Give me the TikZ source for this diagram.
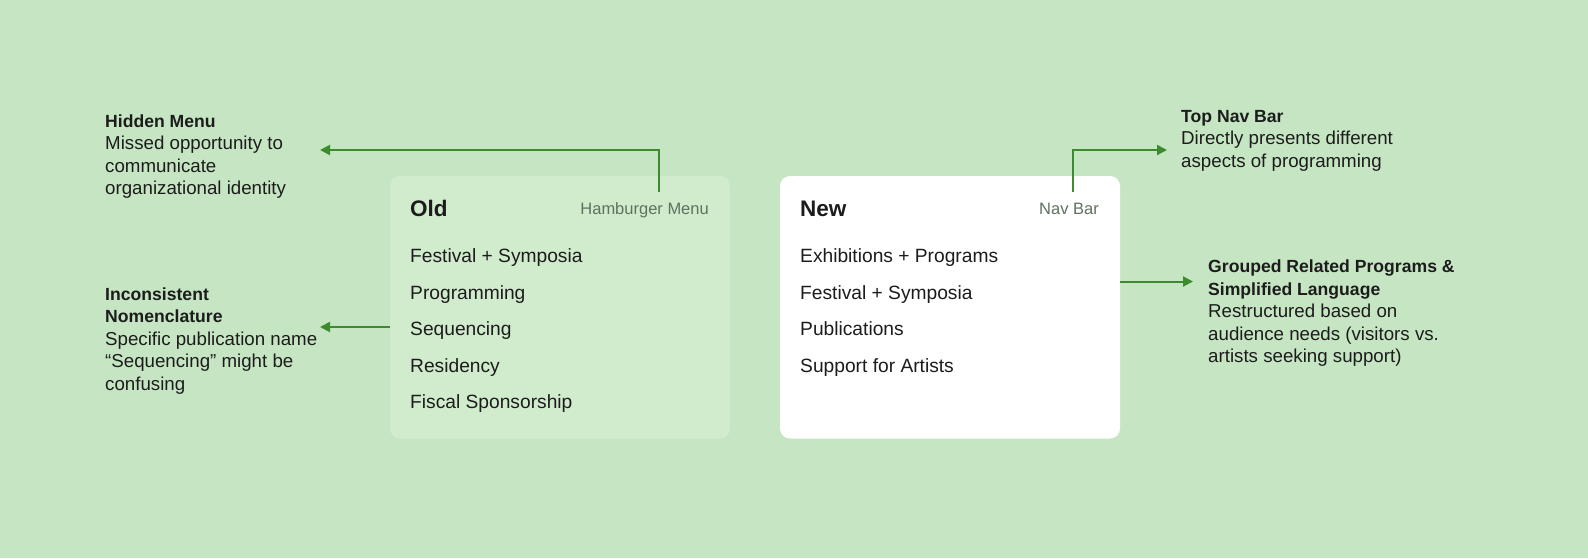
\documentclass[tikz,border=0pt]{standalone}
\usepackage{fontspec}
\setmainfont{Liberation Sans}
\usetikzlibrary{arrows.meta}

\definecolor{bggreen}{HTML}{C6E6C3}
\definecolor{oldfill}{HTML}{D1ECCD}
\definecolor{arrowgreen}{HTML}{3E8A2E}
\definecolor{inkdark}{HTML}{1C1C1C}
\definecolor{hintgray}{HTML}{5E7260}

\begin{document}
\begin{tikzpicture}[x=1pt,y=-1pt,
    menubox/.style={rectangle,rounded corners=10pt,minimum width=340pt,minimum height=262.5pt,inner sep=0},
    note/.style={align=left,anchor=base west,inner sep=0,text=inkdark,font=\notefontsize},
    item/.style={anchor=base west,inner sep=0,text=inkdark,font=\itemfontsize},
    arr/.style={draw=arrowgreen,line width=2pt,-{Triangle[length=10pt,width=10pt]}}]
    \pgfmathsetmacro{\itemgap}{36.5}
    \pgfmathsetmacro{\firstitem}{262.7}
    \providecommand{\headfontsize}{\fontsize{22.5}{28}\selectfont\bfseries}
    \providecommand{\hintfontsize}{\fontsize{16.5}{20}\selectfont}
    \providecommand{\itemfontsize}{\fontsize{19.2}{22}\selectfont}
    \providecommand{\notefontsize}{\fontsize{18.7}{22.5}\selectfont}
    \providecommand{\notetitle}[1]{{\fontsize{17.6}{22.5}\selectfont\bfseries #1}}
    \fill[bggreen] (0,0) rectangle (1588,558);
    \useasboundingbox (0,0) rectangle (1588,558);
    % the two menus
    \node[menubox,fill=oldfill] (old) at (560,307.25) {};
    \node[menubox,fill=white] (new) at (950,307.25) {};
    \node[item,font=\headfontsize] (oldhead) at (410,216.7) {Old};
    \node[item,anchor=base east,text=hintgray,font=\hintfontsize] (hamb) at (709,214) {Hamburger Menu};
    \node[item] (o1) at (410,\firstitem) {Festival + Symposia};
    \node[item] (o2) at (410,\firstitem+\itemgap) {Programming};
    \node[item] (o3) at (410,\firstitem+2*\itemgap) {Sequencing};
    \node[item] (o4) at (410,\firstitem+3*\itemgap) {Residency};
    \node[item] (o5) at (410,\firstitem+4*\itemgap) {Fiscal Sponsorship};
    \node[item,font=\headfontsize] (newhead) at (800,216.7) {New};
    \node[item,anchor=base east,text=hintgray,font=\hintfontsize] (navbar) at (1099,214) {Nav Bar};
    \node[item] (n1) at (800,\firstitem) {Exhibitions + Programs};
    \node[item] (n2) at (800,\firstitem+\itemgap) {Festival + Symposia};
    \node[item] (n3) at (800,\firstitem+2*\itemgap) {Publications};
    \node[item] (n4) at (800,\firstitem+3*\itemgap) {Support for Artists};
    % side notes, placed by the baseline of their last line
    \node[note] (hidden) at (105,194.5) {\notetitle{Hidden Menu}\\Missed opportunity to\\communicate\\organizational identity};
    \node[note] (naming) at (105,390.2) {\notetitle{Inconsistent}\\\notetitle{Nomenclature}\\Specific publication name\\“Sequencing” might be\\confusing};
    \node[note] (topnav) at (1181,167) {\notetitle{Top Nav Bar}\\Directly presents different\\aspects of programming};
    \node[note] (grouped) at (1208,362.9) {\notetitle{Grouped Related Programs \&}\\\notetitle{Simplified Language}\\Restructured based on\\audience needs (visitors vs.\\artists seeking support)};
    % connectors
    \coordinate (hmfoot) at (659,192);
    \coordinate (hmtip) at (320,150);
    \coordinate (nctip) at (320,327);
    \coordinate (nbfoot) at (1073,192);
    \coordinate (nbtip) at (1167,150);
    \coordinate (grtip) at (1193,281.5);
    \draw[arr] (hmfoot) |- (hmtip);
    \draw[arr] (old.west |- nctip) -- (nctip);
    \draw[arr] (nbfoot) |- (nbtip);
    \draw[arr] (new.east |- grtip) -- (grtip);
\end{tikzpicture}
\end{document}
